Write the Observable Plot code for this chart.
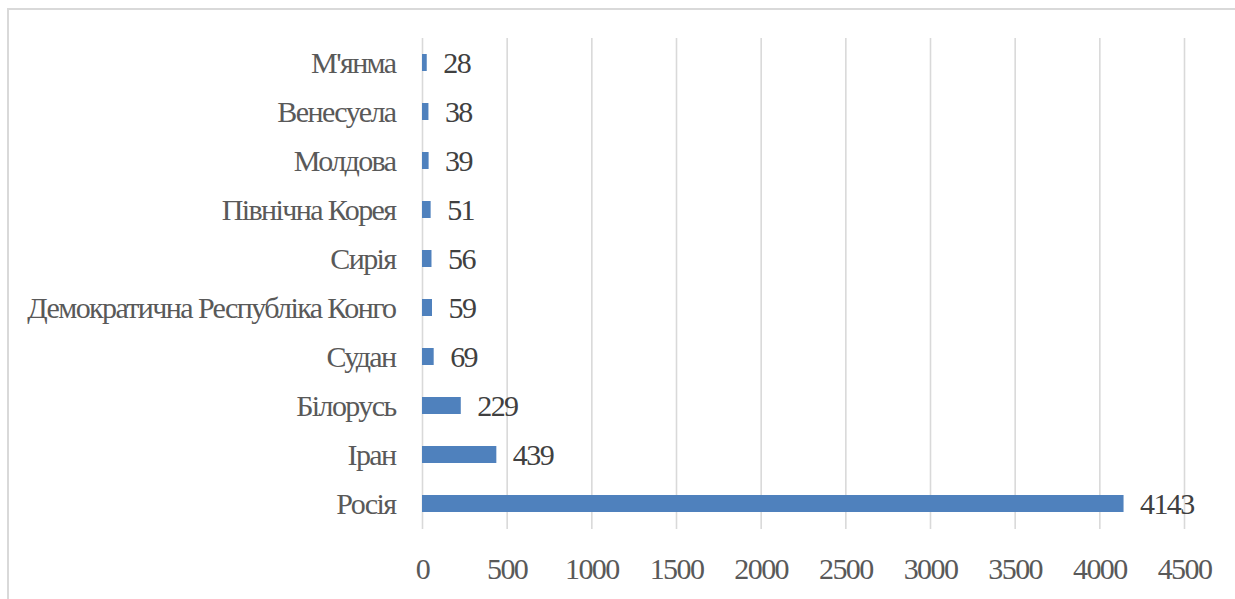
<!DOCTYPE html>
<html>
<head>
<meta charset="utf-8">
<script src="https://cdn.jsdelivr.net/npm/d3@7"></script>
<script src="https://cdn.jsdelivr.net/npm/@observablehq/plot@0.6"></script>
</head>
<body style="margin:0">
<div id="frame" style="position:absolute;left:7px;top:8px;width:1400px;height:800px;border:2px solid #d9d9d9;box-sizing:border-box"></div>
<div id="chart" style="position:absolute;left:0;top:0"></div>
<script>
const countries = ["М'янма", "Венесуела", "Молдова", "Північна Корея", "Сирія", "Демократична Республіка Конго", "Судан", "Білорусь", "Іран", "Росія"];
const values = [28, 38, 39, 51, 56, 59, 69, 229, 439, 4143];
const xTicks = [0, 500, 1000, 1500, 2000, 2500, 3000, 3500, 4000, 4500];

const data = countries.map((c, i) => ({country: c, value: values[i]}));

const chart = Plot.plot({
  width: 1235,
  height: 599,
  marginLeft: 422,
  marginRight: 51,
  marginTop: 38,
  marginBottom: 70,
  style: {fontFamily: "Liberation Serif", fontSize: "30px", color: "#595959", background: "transparent"},
  x: {domain: [0, 4500], ticks: xTicks},
  y: {domain: countries, paddingInner: 0.65, paddingOuter: 0.325},
  marks: [
    Plot.ruleX(xTicks, {stroke: "#d9d9d9", strokeWidth: 1.6}),
    Plot.barX(data, {x: "value", y: "country", fill: "#4f81bd"}),
    Plot.text(data, {x: "value", y: "country", text: d => String(d.value), dx: 16, textAnchor: "start", fill: "#404040", fontSize: 30, fontFamily: "Liberation Serif"}),
    Plot.axisX({ticks: xTicks, tickSize: 0, tickPadding: 28, label: null, tickFormat: d => String(d), fontFamily: "Liberation Serif", fontSize: 30}),
    Plot.axisY({tickSize: 0, tickPadding: 27, label: null, fontFamily: "Liberation Serif", fontSize: 30})
  ]
});
chart.querySelectorAll("text").forEach(t => t.setAttribute("letter-spacing", "-1.6"));
document.getElementById("chart").appendChild(chart);
</script>
</body>
</html>
